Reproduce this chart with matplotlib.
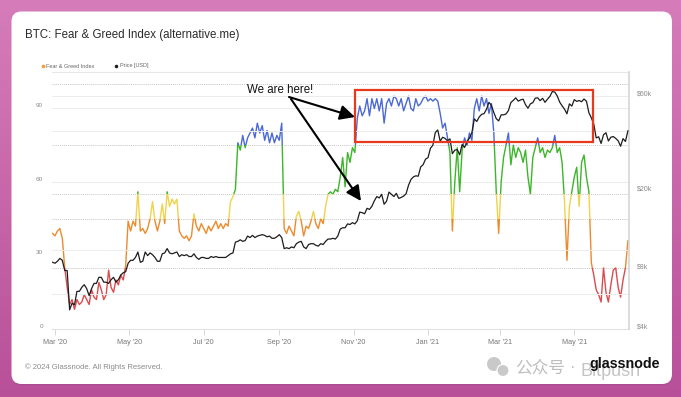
import numpy as np
import pandas as pd
import matplotlib
matplotlib.use('Agg')
import matplotlib.pyplot as plt
import matplotlib.dates as mdates
from matplotlib.patches import Rectangle, FancyBboxPatch, Circle
from matplotlib.ticker import NullLocator
from matplotlib.transforms import ScaledTranslation

plt.rcParams['font.family'] = ['Liberation Sans', 'Noto Sans CJK SC', 'DejaVu Sans']

W, H = 681, 397

# one value every second day, starting 2020-02-28
start_date = '2020-02-28'
fear_greed = [
    39, 38, 40, 41, 37, 25, 17, 10, 12, 8,
    12, 10, 11, 14, 12, 10, 16, 13, 12, 19,
    16, 12, 14, 24, 17, 15, 20, 18, 22, 20,
    26, 44, 40, 44, 42, 56, 40, 41, 39, 41,
    45, 52, 44, 40, 44, 51, 43, 56, 50, 53,
    51, 53, 40, 38, 37, 38, 36, 38, 47, 42,
    40, 43, 41, 39, 42, 40, 42, 44, 41, 43,
    41, 43, 42, 52, 54, 57, 76, 73, 79, 74,
    78, 80, 82, 78, 84, 80, 83, 77, 81, 76,
    80, 76, 79, 77, 84, 41, 39, 42, 40, 38,
    46, 48, 44, 38, 42, 41, 44, 48, 43, 41,
    45, 43, 50, 55, 56, 55, 57, 56, 62, 70,
    58, 72, 68, 74, 72, 86, 91, 87, 89, 94,
    87, 94, 90, 94, 89, 94, 84, 92, 94, 91,
    95, 94, 91, 94, 89, 92, 95, 90, 89, 94,
    91, 92, 94, 95, 93, 94, 93, 94, 93, 88,
    82, 84, 78, 72, 40, 60, 74, 56, 73, 78,
    75, 80, 77, 90, 94, 89, 95, 91, 94, 88,
    92, 80, 56, 39, 60, 70, 75, 80, 67, 75,
    70, 74, 72, 68, 73, 62, 55, 70, 74, 78,
    72, 74, 70, 73, 72, 74, 79, 72, 74, 68,
    52, 28, 50, 56, 62, 66, 50, 68, 71, 62,
    56, 27, 22, 16, 14, 11, 25, 15, 11, 18,
    24, 25, 17, 13, 20, 25, 36,
]
# BTC price in thousands of USD
price_k = [
    8.7, 8.6, 8.8, 9.1, 8.9, 7.9, 7.9, 5.0, 5.4, 5.3,
    6.2, 6.2, 6.5, 6.7, 6.4, 5.9, 6.4, 6.8, 6.8, 7.3,
    7.3, 6.9, 6.9, 6.8, 7.1, 7.3, 6.9, 7.1, 7.5, 7.7,
    7.8, 8.6, 8.9, 8.9, 9.2, 9.8, 8.7, 8.8, 9.8, 9.4,
    9.7, 9.5, 9.2, 8.8, 8.8, 9.6, 9.7, 10.2, 9.7, 9.6,
    9.7, 9.8, 9.3, 9.5, 9.4, 9.5, 9.3, 9.3, 9.6, 9.2,
    9.0, 9.2, 9.2, 9.1, 9.1, 9.3, 9.2, 9.3, 9.2, 9.2,
    9.2, 9.2, 9.4, 9.6, 9.7, 11.0, 11.1, 11.3, 11.1, 11.2,
    11.8, 11.6, 11.9, 11.6, 11.8, 11.9, 12.0, 11.9, 11.7, 11.8,
    11.5, 11.5, 11.7, 12.0, 11.6, 10.2, 10.3, 10.2, 10.4, 10.3,
    10.8, 11.0, 11.1, 10.4, 10.2, 10.7, 10.8, 10.8, 10.6, 10.5,
    10.8, 10.7, 11.1, 11.4, 11.4, 11.5, 11.4, 11.8, 12.8, 13.0,
    13.0, 13.6, 13.5, 13.8, 13.6, 14.1, 15.6, 15.5, 15.3, 16.3,
    16.1, 16.7, 17.8, 18.7, 18.4, 19.2, 17.1, 17.7, 19.7, 19.2,
    18.7, 19.4, 18.3, 18.5, 18.8, 19.3, 21.3, 22.8, 23.5, 23.8,
    23.7, 26.4, 27.1, 28.9, 29.4, 32.8, 34.0, 39.4, 40.6, 35.6,
    37.3, 36.8, 35.8, 36.6, 30.8, 32.1, 32.3, 30.4, 34.3, 33.1,
    35.5, 36.9, 39.3, 46.2, 44.8, 47.2, 48.7, 49.1, 51.7, 56.0,
    54.1, 49.7, 46.3, 45.1, 48.4, 48.4, 48.9, 50.9, 55.9, 57.3,
    59.0, 56.8, 57.6, 58.1, 54.5, 52.3, 55.0, 55.8, 58.8, 59.0,
    57.1, 58.7, 56.0, 58.1, 60.0, 63.5, 63.1, 60.4, 56.2, 53.8,
    51.7, 49.0, 55.0, 53.6, 57.8, 56.6, 57.2, 56.4, 58.2, 56.7,
    49.6, 46.7, 43.5, 37.0, 37.5, 34.7, 38.4, 39.3, 35.7, 37.3,
    37.6, 36.8, 35.8, 33.6, 36.7, 35.5, 40.2,
]

# sentiment bands: (low, high, colour)
bands = [(0, 25, '#dc4b4f'), (25, 45, '#ec8b2c'), (45, 55, '#f0d24e'),
         (55, 75, '#3db52b'), (75, 105, '#4b68d6')]
band_lines = [25, 45, 55, 75, 100]

x_tick_dates = ['2020-03-01', '2020-05-01', '2020-07-01', '2020-09-01',
                '2020-11-01', '2021-01-01', '2021-03-01', '2021-05-01']
x_tick_labels = ["Mar '20", "May '20", "Jul '20", "Sep '20",
                 "Nov '20", "Jan '21", "Mar '21", "May '21"]
left_ticks = [0, 30, 60, 90]
right_ticks = [4000, 8000, 20000, 60000]
right_labels = ['$4k', '$8k', '$20k', '$60k']

dates = pd.date_range(start_date, periods=len(fear_greed), freq='2D')
price = np.array(price_k) * 1000

fig = plt.figure(figsize=(W / 100, H / 100), dpi=100)

# background + card
bg = fig.add_axes([0, 0, 1, 1], zorder=-10)
bg.set_xlim(0, W)
bg.set_ylim(H, 0)
bg.axis('off')
top_c = np.array([214, 124, 186]) / 255
bot_c = np.array([184, 80, 153]) / 255
t = np.linspace(0, 1, H)[:, None, None]
grad = top_c * (1 - t) + bot_c * t
grad = np.repeat(grad, 4, axis=1)
bg.imshow(grad, extent=(0, W, H, 0), aspect='auto')
bg.add_patch(FancyBboxPatch((12, 13.5), 660, 372, boxstyle='round,pad=0,rounding_size=10',
                            fc='#8a3a78', ec='none', alpha=0.25))
bg.add_patch(FancyBboxPatch((11.5, 11.5), 660.5, 372.5, boxstyle='round,pad=0,rounding_size=10',
                            fc='white', ec='none'))

# chart
ax = fig.add_axes([52 / W, 1 - 329 / H, 577 / W, 257.3 / H], zorder=2)
ax.patch.set_alpha(0)
x0 = mdates.date2num(pd.Timestamp('2020-03-01')) - 2.46
x1 = mdates.date2num(pd.Timestamp('2020-03-01')) + 470.9
ax.set_xlim(x0, x1)
ax.set_ylim(0, 105)

for lvl in band_lines:
    ax.axhline(lvl, color='#b4b4b4', lw=0.6, ls=(0, (1, 1.3)), zorder=0)
for lvl in [60, 90]:
    ax.axhline(lvl, color='#ececec', lw=0.7, zorder=0)

for lo, hi, col in bands:
    ln, = ax.plot(dates, fear_greed, color=col, lw=1.0, zorder=3)
    clip = Rectangle((x0 - 10, lo), x1 - x0 + 20, hi - lo, transform=ax.transData)
    ln.set_clip_path(clip)

ax.set_xticks(mdates.date2num(pd.to_datetime(x_tick_dates)))
ax.set_xticklabels(x_tick_labels)
ax.tick_params(axis='x', length=4, width=0.6, color='#d2d2d2', labelsize=5.2,
               labelcolor='#777777', pad=3)
ax.set_yticks(left_ticks)
ax.tick_params(axis='y', length=0, labelsize=4.6, labelcolor='#8a8a8a', pad=6.5)
for side in ['left', 'right']:
    ax.spines[side].set_visible(False)
ax.spines['top'].set_color('#e8e8e8')
ax.spines['top'].set_linewidth(0.8)
ax.spines['bottom'].set_color('#e2e2e2')
ax.spines['bottom'].set_linewidth(0.8)

ax2 = ax.twinx()
ax2.set_zorder(3)
ax2.patch.set_alpha(0)
ax2.set_yscale('log')
ax2.set_ylim(4000, 80000)
for lvl in [6000, 10000, 40000, 60000]:
    ax2.axhline(lvl, color='#ececec', lw=0.7, zorder=0)
ax2.plot(dates, price, color='#1d1d1d', lw=0.9, zorder=4)
ax2.set_yticks(right_ticks)
ax2.set_yticklabels(right_labels)
ax2.yaxis.set_minor_locator(NullLocator())
ax2.tick_params(axis='y', length=0, labelsize=5, labelcolor='#8a8a8a', pad=5.8)
for side in ['left', 'top', 'bottom']:
    ax2.spines[side].set_visible(False)
ax2.spines['right'].set_color('#d6d6d6')
ax2.spines['right'].set_linewidth(1.2)

shift = ScaledTranslation(0, 0.03, fig.dpi_scale_trans)
for lab in ax.get_yticklabels() + ax2.get_yticklabels():
    lab.set_transform(lab.get_transform() + shift)

# overlay: texts and annotations in pixel coordinates
fg = fig.add_axes([0, 0, 1, 1], zorder=20)
fg.patch.set_alpha(0)
fg.set_xlim(0, W)
fg.set_ylim(H, 0)
fg.axis('off')

fg.text(25, 35, 'BTC: Fear & Greed Index (alternative.me)', fontsize=8.3,
        color='#2a2a2a', va='center', ha='left')

fg.plot([42.7], [66], 'o', ms=2.6, color='#f39a33', mec='none')
fg.text(46.5, 66, 'Fear & Greed Index', fontsize=4, color='#666666', va='center')
fg.plot([115.7], [66], 'o', ms=2.6, color='#222222', mec='none')
fg.text(119.5, 66, 'Price [USD]', fontsize=4, color='#666666', va='center')

fg.text(247, 90, 'We are here!', fontsize=8.3, color='#111111', va='center')
fg.add_patch(Rectangle((355, 90), 237.5, 52.3, fill=False, ec='#e8391d', lw=1.6))
arrow = dict(arrowstyle='-|>,head_length=0.9,head_width=0.45', color='black',
             lw=1.5, shrinkA=0, shrinkB=0, mutation_scale=10)
fg.annotate('', xy=(355, 117), xytext=(289, 97), arrowprops=arrow)
fg.annotate('', xy=(361, 201), xytext=(291, 99), arrowprops=arrow)

fg.text(25, 367, '\u00a9 2024 Glassnode. All Rights Reserved.', fontsize=5.5,
        color='#8a8a8a', va='center')

# watermark
fg.add_patch(Circle((494, 364), 7, fc='#c9c9c9', ec='none'))
fg.add_patch(Circle((503, 370.5), 6, fc='#c9c9c9', ec='white', lw=0.8))
fg.text(515, 368, '公众号', fontsize=12, color='#bdbdbd', va='center',
        family=['Noto Sans CJK SC', 'DejaVu Sans'])
fg.text(570, 368, '·', fontsize=12, color='#bdbdbd', va='center')
fg.text(581, 372, 'Bitpush', fontsize=13, color='#c4c4c4', va='center')
fg.text(589, 364, 'glassnode', fontsize=10.3, fontweight='bold', color='#111111',
        va='center')

fig.savefig('out.png', dpi=100)
